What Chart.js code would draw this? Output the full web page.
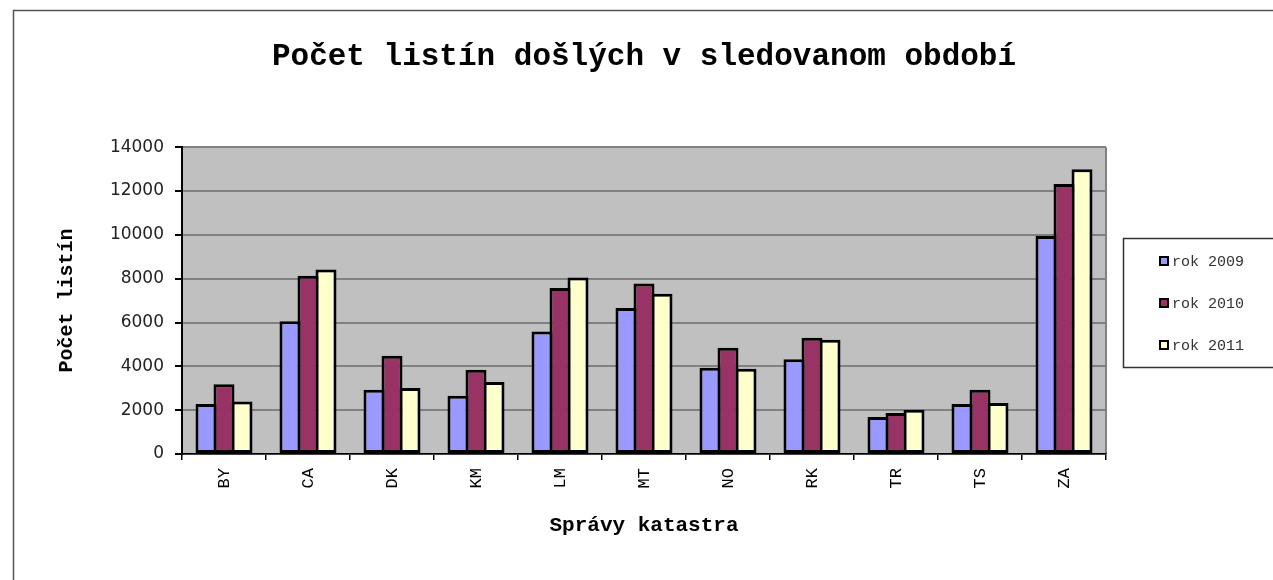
<!DOCTYPE html>
<html><head><meta charset="utf-8">
<script src="https://cdn.jsdelivr.net/npm/chart.js@4/dist/chart.umd.min.js"></script>
<style>html,body{margin:0;padding:0;background:#fff;overflow:hidden}#wrap{width:1273px;height:580px;position:relative}</style>
</head><body><div id="wrap"><canvas id="c" width="1273" height="580"></canvas></div>
<script>
const categories = ['BY','CA','DK','KM','LM','MT','NO','RK','TR','TS','ZA'];
const rok2009 = [2280, 6060, 2930, 2660, 5590, 6660, 3940, 4320, 1690, 2280, 9950];
const rok2010 = [3180, 8130, 4480, 3850, 7580, 7780, 4850, 5300, 1870, 2930, 12320];
const rok2011 = [2390, 8420, 3010, 3280, 8050, 7310, 3890, 5210, 2020, 2330, 12990];
const seriesLabels = ['rok 2009', 'rok 2010', 'rok 2011'];
const chartTitle = 'Počet listín došlých v sledovanom období';
const xTitle = 'Správy katastra';
const yTitle = 'Počet listín';
const yMin = 0, yMax = 14000, yStep = 2000;

Chart.defaults.font.family = '"Liberation Mono", monospace';

const colors = ['#9999FF', '#993366', '#FFFFCC'];
const seriesData = [rok2009, rok2010, rok2011];

const framePlugin = {
  id: 'frame',
  beforeDraw(chart) {
    const {ctx, chartArea: a} = chart;
    ctx.save();
    ctx.fillStyle = '#C0C0C0';
    ctx.fillRect(a.left, a.top, a.right - a.left, a.bottom - a.top);
    ctx.strokeStyle = '#808080';
    ctx.lineWidth = 2;
    ctx.beginPath();
    ctx.moveTo(a.right, a.top); ctx.lineTo(a.right, a.bottom);
    ctx.stroke();
    ctx.strokeStyle = '#555';
    ctx.lineWidth = 1.5;
    ctx.beginPath();
    ctx.moveTo(13.5, 580); ctx.lineTo(13.5, 10.5); ctx.lineTo(1273, 10.5);
    ctx.stroke();
    ctx.restore();
  },
  afterDraw(chart) {
    const ctx = chart.ctx;
    ctx.save();
    ctx.strokeStyle = '#333';
    ctx.lineWidth = 1.5;
    ctx.strokeRect(1123.5, 238.5, 200, 129);
    ctx.font = '15px "Liberation Mono"';
    ctx.textBaseline = 'middle';
    ctx.textAlign = 'left';
    chart.data.datasets.forEach((ds, i) => {
      const y = 261 + i * 42;
      ctx.fillStyle = '#000';
      ctx.fillRect(1159, y - 5, 10, 10);
      ctx.fillStyle = ds.backgroundColor;
      ctx.fillRect(1161, y - 3, 6, 6);
      ctx.fillStyle = '#333';
      ctx.fillText(ds.label, 1172, y + 1);
    });
    ctx.restore();
  }
};

new Chart(document.getElementById('c'), {
  type: 'bar',
  data: {
    labels: categories,
    datasets: seriesData.map((d, i) => ({
      label: seriesLabels[i],
      data: d,
      backgroundColor: colors[i],
      borderColor: '#000',
      borderWidth: 3,
      borderSkipped: false,
      inflateAmount: 0,
      categoryPercentage: 0.643,
      barPercentage: 1.167
    }))
  },
  options: {
    responsive: false,
    animation: false,
    devicePixelRatio: 1,
    layout: {padding: {left: 0, right: 167, top: 0, bottom: 0}},
    plugins: {
      legend: {display: false},
      tooltip: {enabled: false},
      title: {
        display: true, text: chartTitle, fullSize: false, color: '#000',
        font: {size: 31, weight: 'bold'},
        padding: {top: 39, bottom: 71}
      }
    },
    scales: {
      x: {
        afterFit(s) { s.height = 126; },
        grid: {offset: true, drawOnChartArea: false, tickLength: 6, tickColor: '#000', lineWidth: 1.5},
        border: {color: '#000', width: 1.5},
        ticks: {color: '#000', font: {size: 17}, minRotation: 90, maxRotation: 90, padding: 8, autoSkip: false},
        title: {display: true, text: xTitle, color: '#000', font: {size: 21, weight: 'bold'}, padding: {top: 0, bottom: 42}}
      },
      y: {
        min: yMin, max: yMax,
        afterFit(s) { s.width = 182; },
        grid: {color: '#808080', lineWidth: 2, tickColor: '#000', tickLength: 7},
        border: {color: '#000', width: 2},
        ticks: {stepSize: yStep, color: '#222', padding: 11, font: {family: '"DejaVu Sans"', size: 17},
                callback: (v) => String(v)},
        title: {display: true, text: yTitle, color: '#000', font: {size: 20, weight: 'bold'}, padding: {top: 55, bottom: 0}}
      }
    }
  },
  plugins: [framePlugin]
});
</script></body></html>
